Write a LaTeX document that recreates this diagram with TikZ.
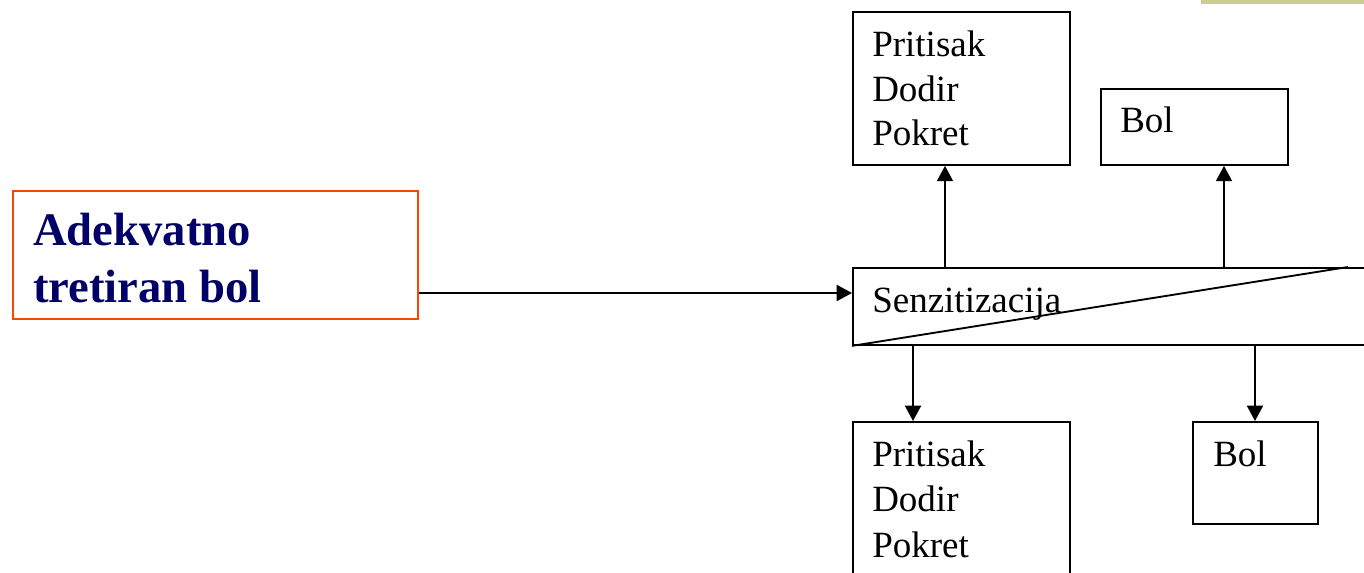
\documentclass[tikz,border=0pt]{standalone}
\usepackage{fontspec}
\setmainfont{Liberation Serif}
\usetikzlibrary{arrows.meta}
\definecolor{navyblue}{RGB}{0,0,102}
\definecolor{boxorange}{RGB}{255,69,0}
\definecolor{khaki}{RGB}{204,204,153}
\begin{document}
\begin{tikzpicture}[x=0.75pt,y=-0.75pt,
  box/.style={draw=black,line width=1.4pt,inner sep=0pt,anchor=north west},
  lbl/.style={anchor=base west,inner sep=0pt,font=\fontsize{27.75}{33}\selectfont},
  big/.style={anchor=base west,inner sep=0pt,font=\fontsize{35}{42}\selectfont\bfseries,text=navyblue},
  arr/.style={line width=1.4pt,-{Triangle[length=11.5pt,width=12pt]}}]
\clip (0,0) rectangle (1364,573);
\fill[khaki] (1201,0) rectangle (1364,4);
% boxes
\node[box,draw=boxorange,minimum width=303.75pt,minimum height=96pt] (adek) at (12,190) {};
\node[box,minimum width=162.75pt,minimum height=114.75pt] (tl) at (852,11) {};
\node[box,minimum width=140.25pt,minimum height=57pt] (tr) at (1100,88) {};
\node[box,minimum width=388.5pt,minimum height=57.75pt] (senz) at (852,267) {};
\node[box,minimum width=162.75pt,minimum height=126.75pt] (bl) at (852,421) {};
\node[box,minimum width=93.75pt,minimum height=76.5pt] (br) at (1192,421) {};
% texts
\node[big] (a1) at (33,246) {Adekvatno};
\node[big] (a2) at (33,303) {tretiran bol};
\node[lbl] (t1) at (872,57) {Pritisak};
\node[lbl] (t2) at (872,101.5) {Dodir};
\node[lbl] (t3) at (872,146) {Pokret};
\node[lbl] (t4) at (1120,133) {Bol};
\node[lbl] (s1) at (872,313) {Senzitizacija};
\node[lbl] (b1) at (872,467) {Pritisak};
\node[lbl] (b2) at (872,512) {Dodir};
\node[lbl] (b3) at (872,557) {Pokret};
\node[lbl] (b4) at (1213,467) {Bol};
% diagonal
\coordinate (diagend) at (1348,267);
\draw[line width=1.4pt] (senz.south west) -- (diagend);
% connectors
\draw[arr] (adek.east |- 0,293) -- (senz.west |- 0,293);
\draw[arr] (senz.north -| 945,0) -- (tl.south -| 945,0);
\draw[arr] (senz.north -| 1224,0) -- (tr.south -| 1224,0);
\draw[arr] (senz.south -| 913,0) -- (bl.north -| 913,0);
\draw[arr] (senz.south -| 1255,0) -- (br.north -| 1255,0);
\end{tikzpicture}
\end{document}
